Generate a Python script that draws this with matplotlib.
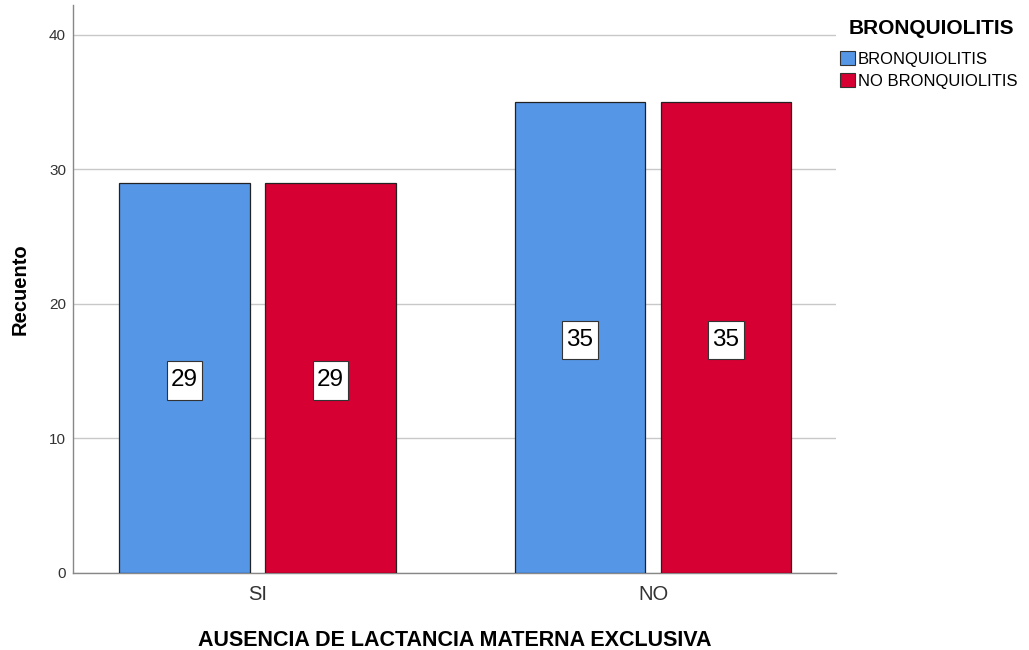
import matplotlib
matplotlib.use("Agg")
import matplotlib.pyplot as plt
from matplotlib.patches import Patch
from matplotlib.path import Path

categories = ["SI", "NO"]
series_names = ["BRONQUIOLITIS", "NO BRONQUIOLITIS"]
bronquiolitis = [29, 35]
no_bronquiolitis = [29, 35]
yticks = [0, 10, 20, 30, 40]

colors = ["#5596E6", "#D60032"]

plt.rcParams["font.family"] = ["Liberation Sans", "DejaVu Sans"]


def label_box(x0, y0, width, height, mutation_size):
    """Square box with a taller vertical padding than horizontal."""
    px = 0.17 * mutation_size
    py = 0.34 * mutation_size
    x0, y0 = x0 - px, y0 - py
    x1, y1 = x0 + width + 2 * px, y0 + height + 2 * py
    return Path([(x0, y0), (x1, y0), (x1, y1), (x0, y1), (x0, y0)], closed=True)


fig = plt.figure(figsize=(10.29, 6.5), dpi=100)
ax = fig.add_axes([73 / 1029, 1 - 573 / 650, (836 - 73) / 1029, (573 - 5) / 650])

x = list(range(len(categories)))
width = 0.331
offset = 0.1846
for vals, color, sign in [(bronquiolitis, colors[0], -1), (no_bronquiolitis, colors[1], 1)]:
    pos = [xi + sign * offset for xi in x]
    ax.bar(pos, vals, width=width, color=color, edgecolor="#222222", linewidth=0.9, zorder=3)
    for p, v in zip(pos, vals):
        ax.text(p, v / 2, f"{v}", ha="center", va="center_baseline", fontsize=17.5, color="black",
                zorder=4, bbox=dict(boxstyle=label_box, facecolor="white", edgecolor="#333333",
                                    linewidth=0.8))

ax.set_xlim(-0.4665, 1.4627)
ax.set_ylim(0, 42.2)
ax.set_yticks(yticks)
ax.set_yticklabels([str(t) for t in yticks], fontsize=11, color="#333333")
ax.set_xticks(x)
ax.set_xticklabels(categories, fontsize=14.5, color="#333333")
ax.tick_params(axis="y", length=0, pad=5)
ax.tick_params(axis="x", length=0, pad=9)
ax.yaxis.grid(True, color="#C8C8C8", linewidth=1.0, zorder=0)
ax.set_axisbelow(True)
for s in ["top", "right"]:
    ax.spines[s].set_visible(False)
for s in ["left", "bottom"]:
    ax.spines[s].set_color("#888888")
    ax.spines[s].set_linewidth(1.0)

ax.set_ylabel("Recuento", fontsize=14.5, fontweight="bold", labelpad=14)
ax.set_xlabel("AUSENCIA DE LACTANCIA MATERNA EXCLUSIVA", fontsize=15.5, fontweight="bold", labelpad=18)

# legend title drawn separately, centred over the entries
fig.text(931.5 / 1029, 1 - 28 / 650, "BRONQUIOLITIS", ha="center", va="center",
         fontsize=15, fontweight="bold", color="black")
handles = [Patch(facecolor=c, edgecolor="#333333", linewidth=0.8) for c in colors]
leg = fig.legend(handles, series_names, loc="upper left",
                 bbox_to_anchor=(840 / 1029, 1 - 51 / 650), frameon=False, fontsize=12,
                 handlelength=0.9, handleheight=0.9, handletextpad=0.15, labelspacing=0.4,
                 borderaxespad=0, borderpad=0)

fig.savefig("out.png", dpi=100)
